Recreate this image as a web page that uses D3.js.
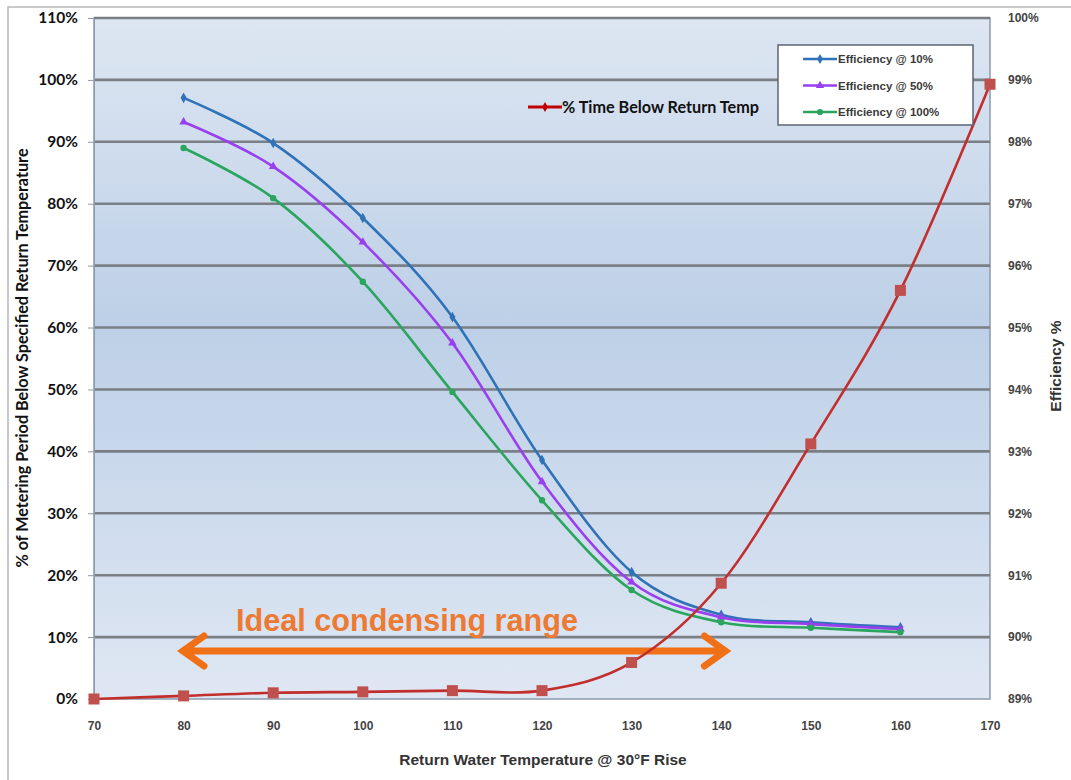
<!DOCTYPE html>
<html>
<head>
<meta charset="utf-8">
<script src="https://cdn.jsdelivr.net/npm/d3@7"></script>
<style>
  body { margin: 0; background: #fff; }
  svg { display: block; }
</style>
</head>
<body>
<svg width="1071" height="780"></svg>
<script>
const WIDTH = 1071;
const HEIGHT = 780;

// return water temperature (x)
const temps = [70, 80, 90, 100, 110, 120, 130, 140, 150, 160, 170];
const xTicks = [70, 80, 90, 100, 110, 120, 130, 140, 150, 160, 170];

// % time below return temp (left axis)
const timeBelow = [0, 0.5, 1.0, 1.15, 1.35, 1.35, 5.9, 18.7, 41.2, 66.0, 99.3];

// efficiency series (right axis), 80..160
const effTemps = [80, 90, 100, 110, 120, 130, 140, 150, 160];
const eff10 = [98.71, 97.98, 96.77, 95.17, 92.86, 91.05, 90.36, 90.24, 90.16];
const eff50 = [98.32, 97.60, 96.38, 94.75, 92.51, 90.89, 90.32, 90.21, 90.13];
const eff100 = [97.90, 97.09, 95.74, 93.96, 92.21, 90.76, 90.24, 90.15, 90.08];

const leftTicks = [0, 10, 20, 30, 40, 50, 60, 70, 80, 90, 100, 110];
const rightTicks = [89, 90, 91, 92, 93, 94, 95, 96, 97, 98, 99, 100];

const effSeries = [
  { name: "Efficiency @ 10%", values: eff10, color: "#2f72b8", marker: "diamond" },
  { name: "Efficiency @ 50%", values: eff50, color: "#9a3ff0", marker: "triangle" },
  { name: "Efficiency @ 100%", values: eff100, color: "#2aa55e", marker: "circle" }
];

const plot = { left: 94, right: 990, top: 18, bottom: 699 };

const x = d3.scaleLinear().domain([70, 170]).range([plot.left, plot.right]);
const yL = d3.scaleLinear().domain([0, 110]).range([plot.bottom, plot.top]);
const yR = d3.scaleLinear().domain([89, 100]).range([plot.bottom, plot.top]);

const svg = d3.select("svg");
const defs = svg.append("defs");

const grad = defs.append("linearGradient").attr("id", "bg")
  .attr("x1", 0).attr("y1", 0).attr("x2", 0).attr("y2", 1);
grad.append("stop").attr("offset", "0%").attr("stop-color", "#dde6f2");
grad.append("stop").attr("offset", "45%").attr("stop-color", "#bdd0e7");
grad.append("stop").attr("offset", "100%").attr("stop-color", "#dfe7f3");

// outer frame
svg.append("path")
  .attr("d", `M8,${HEIGHT} L8,7 L${WIDTH},7`)
  .attr("fill", "none").attr("stroke", "#b8b8b8").attr("stroke-width", 1.5);

// plot background
svg.append("rect")
  .attr("x", plot.left).attr("y", plot.top)
  .attr("width", plot.right - plot.left).attr("height", plot.bottom - plot.top)
  .attr("fill", "url(#bg)").attr("stroke", "#8b9aad").attr("stroke-width", 1.5);

// gridlines
svg.append("g")
  .selectAll("line")
  .data(leftTicks.filter(d => d > 0))
  .join("line")
  .attr("x1", plot.left).attr("x2", plot.right)
  .attr("y1", d => yL(d)).attr("y2", d => yL(d))
  .attr("stroke", "#7a7e85").attr("stroke-width", 2.6);

// left axis
const leftAxis = svg.append("g")
  .attr("transform", `translate(${plot.left},0)`)
  .call(d3.axisLeft(yL).tickValues(leftTicks).tickFormat(d => d + "%").tickSize(6).tickPadding(10));
leftAxis.select(".domain").attr("stroke", "#8b9aad");
leftAxis.selectAll(".tick line").attr("stroke", "#8b9aad");
leftAxis.selectAll("text")
  .attr("font-family", "Lato, 'Open Sans', sans-serif")
  .attr("font-weight", "bold").attr("font-size", 15.5).attr("fill", "#111");

// right axis
const rightAxis = svg.append("g")
  .attr("transform", `translate(${plot.right},0)`)
  .call(d3.axisRight(yR).tickValues(rightTicks).tickFormat(d => d + "%").tickSize(0).tickPadding(18));
rightAxis.select(".domain").remove();
rightAxis.selectAll("text")
  .attr("font-family", "Liberation Sans, Arial, sans-serif")
  .attr("font-weight", "bold").attr("font-size", 12).attr("fill", "#444");

// bottom axis
const bottomAxis = svg.append("g")
  .attr("transform", `translate(0,${plot.bottom})`)
  .call(d3.axisBottom(x).tickValues(xTicks).tickFormat(d3.format("d")).tickSize(0).tickPadding(22));
bottomAxis.select(".domain").remove();
bottomAxis.selectAll("text")
  .attr("font-family", "Liberation Sans, Arial, sans-serif")
  .attr("font-weight", "bold").attr("font-size", 12).attr("fill", "#444");

// axis titles
svg.append("text")
  .attr("transform", "translate(28,358) rotate(-90)")
  .attr("text-anchor", "middle")
  .attr("font-family", "Lato, 'Open Sans', sans-serif")
  .attr("font-weight", "bold").attr("font-size", 16.2).attr("fill", "#111")
  .text("% of Metering Period Below Specified Return Temperature");

svg.append("text")
  .attr("transform", "translate(1061,366) rotate(-90)")
  .attr("text-anchor", "middle")
  .attr("font-family", "Liberation Sans, Arial, sans-serif")
  .attr("font-weight", "bold").attr("font-size", 15.5).attr("fill", "#333")
  .text("Efficiency %");

svg.append("text")
  .attr("x", 543).attr("y", 765)
  .attr("text-anchor", "middle")
  .attr("font-family", "Liberation Sans, Arial, sans-serif")
  .attr("font-weight", "bold").attr("font-size", 15.5).attr("fill", "#333")
  .text("Return Water Temperature @ 30°F Rise");

// ideal condensing range arrow
const arrowY = yL(7.75);
const ax1 = x(79.6), ax2 = x(140.8);
svg.append("path")
  .attr("d", `M${ax1 + 3},${arrowY} L${ax2 - 3},${arrowY}
              M${ax1 + 24},${arrowY - 15} L${ax1 + 3},${arrowY} L${ax1 + 24},${arrowY + 15}
              M${ax2 - 24},${arrowY - 15} L${ax2 - 3},${arrowY} L${ax2 - 24},${arrowY + 15}`)
  .attr("fill", "none").attr("stroke", "#f07018").attr("stroke-width", 7)
  .attr("stroke-linecap", "round").attr("stroke-linejoin", "miter");

svg.append("text")
  .attr("x", 236).attr("y", 631)
  .attr("textLength", 342).attr("lengthAdjust", "spacingAndGlyphs")
  .attr("font-family", "Liberation Sans, Arial, sans-serif")
  .attr("font-weight", "bold").attr("font-size", 31).attr("fill", "#ec7a32")
  .text("Ideal condensing range");

// series lines
const curve = d3.curveCardinal.tension(0);
const effLine = d3.line().curve(curve)
  .x((d, i) => x(effTemps[i]))
  .y(d => yR(d));

function markerPath(type, size) {
  if (type === "diamond") return d3.symbol(d3.symbolDiamond, size)();
  if (type === "triangle") return d3.symbol(d3.symbolTriangle, size)();
  return d3.symbol(d3.symbolCircle, size)();
}

effSeries.forEach(s => {
  svg.append("path")
    .attr("d", effLine(s.values))
    .attr("fill", "none").attr("stroke", s.color).attr("stroke-width", 2.6);
  svg.append("g").selectAll("path")
    .data(s.values)
    .join("path")
    .attr("transform", (d, i) => `translate(${x(effTemps[i])},${yR(d)})`)
    .attr("d", markerPath(s.marker, 32))
    .attr("fill", s.color);
});

const redLine = d3.line().curve(curve)
  .x((d, i) => x(temps[i]))
  .y(d => yL(d));

svg.append("path")
  .attr("d", redLine(timeBelow))
  .attr("fill", "none").attr("stroke", "#c22e2b").attr("stroke-width", 2.6);

svg.append("g").selectAll("rect")
  .data(timeBelow)
  .join("rect")
  .attr("x", (d, i) => x(temps[i]) - 5.5)
  .attr("y", d => yL(d) - 5.5)
  .attr("width", 11).attr("height", 11)
  .attr("fill", "#c0504d");

// legend for efficiency series
const legend = svg.append("g").attr("transform", "translate(778,45)");
legend.append("rect")
  .attr("width", 195).attr("height", 80)
  .attr("fill", "#fff").attr("stroke", "#5c6573").attr("stroke-width", 1.5);
effSeries.forEach((s, i) => {
  const ly = 14 + i * 26.5;
  legend.append("line")
    .attr("x1", 25).attr("x2", 59).attr("y1", ly).attr("y2", ly)
    .attr("stroke", s.color).attr("stroke-width", 2.6);
  legend.append("path")
    .attr("transform", `translate(42,${ly})`)
    .attr("d", markerPath(s.marker, 30))
    .attr("fill", s.color);
  legend.append("text")
    .attr("x", 60).attr("y", ly + 4)
    .attr("font-family", "Liberation Sans, Arial, sans-serif")
    .attr("font-weight", "bold")
    .attr("font-size", 11.5).attr("fill", "#3a3a3a")
    .text(s.name);
});

// legend for red series
const redLeg = svg.append("g").attr("transform", "translate(528,107)");
redLeg.append("line")
  .attr("x1", 0).attr("x2", 34).attr("y1", 0).attr("y2", 0)
  .attr("stroke", "#c00000").attr("stroke-width", 3);
redLeg.append("path")
  .attr("transform", "translate(17,0)")
  .attr("d", d3.symbol(d3.symbolDiamond, 30)())
  .attr("fill", "#c00000");
redLeg.append("text")
  .attr("x", 34).attr("y", 5.5)
  .attr("font-family", "Lato, 'Open Sans', sans-serif")
  .attr("font-weight", "bold").attr("font-size", 16.2).attr("fill", "#111")
  .text("% Time Below Return Temp");
</script>
</body>
</html>
